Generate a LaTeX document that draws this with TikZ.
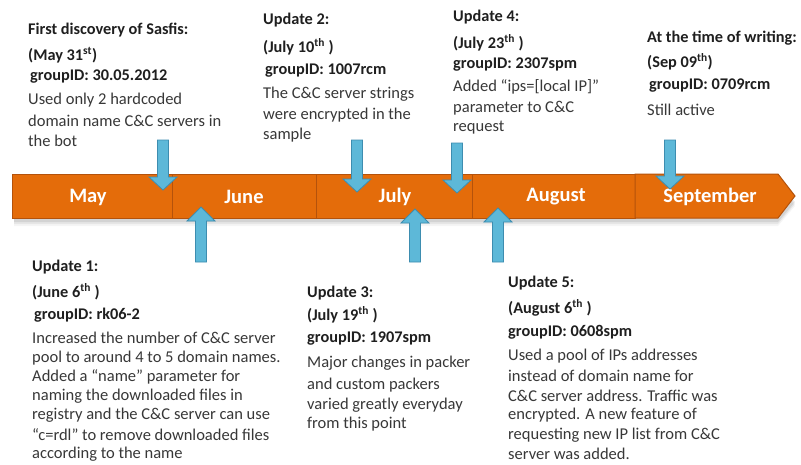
\documentclass[tikz,border=0pt]{standalone}
\usepackage{fontspec}
\setmainfont{Carlito}
\begin{document}
\begin{tikzpicture}[x=1pt,y=-1pt,
  hd/.style={anchor=west,inner sep=0pt,font=\fontsize{16.3}{18}\selectfont\bfseries,text=black!88},
  ds/.style={anchor=west,inner sep=0pt,font=\fontsize{16.5}{18}\selectfont,text=black!78},
  mon/.style={inner sep=0pt,font=\fontsize{20.5}{22}\selectfont\bfseries,text=white},
  seg/.style={fill=barorange,draw=bardark,line width=1pt},
  blk/.style={fill=arrblue,draw=arrdark,line width=0.8pt}]
\definecolor{barorange}{HTML}{E46C0A}
\definecolor{bardark}{HTML}{B4520B}
\definecolor{arrblue}{HTML}{5DB8D8}
\definecolor{arrdark}{HTML}{3D8DB0}
\useasboundingbox (0,0) rectangle (801,464);
\fill[white] (0,0) rectangle (801,464);
% shadow
\foreach \o/\op in {7/0.04,5/0.06,3/0.08}{
  \fill[black,opacity=\op] (14,178+\o) -- (778,178+\o) -- (795,199+\o) -- (778,219+\o) -- (14,219+\o) -- cycle;}
% bar segments
\path[seg] (12,174) rectangle (172,218);
\path[seg] (172,174) rectangle (316,218);
\path[seg] (316,174) rectangle (472,218);
\path[seg] (472,174) rectangle (635,218);
\path[seg] (635,174) -- (778,174) -- (795,196) -- (778,218) -- (635,218) -- cycle;
\node[mon] (may) at (88,197) {May};
\node[mon] (jun) at (244,197) {June};
\node[mon] (jul) at (395,197) {July};
\node[mon] (aug) at (556,197) {August};
\node[mon] (sep) at (710,197) {September};
% down arrows
\foreach \x/\ya/\yb in {163/140/190, 357/140/192, 457/143/193, 670/140/189}{
  \path[blk] (\x-5.5,\ya) -- (\x+5.5,\ya) -- (\x+5.5,\yb-13) -- (\x+14,\yb-13) -- (\x,\yb) -- (\x-14,\yb-13) -- (\x-5.5,\yb-13) -- cycle;}
% up arrows
\foreach \x/\ya/\yb in {201/262/207, 415/262/209, 498/262/208}{
  \path[blk] (\x-5.5,\ya) -- (\x+5.5,\ya) -- (\x+5.5,\yb+14) -- (\x+14,\yb+14) -- (\x,\yb) -- (\x-14,\yb+14) -- (\x-5.5,\yb+14) -- cycle;}
% First discovery
\node[hd] (f1) at (28,30) {First discovery of Sasfis:};
\node[hd] (f2) at (28,55) {(May 31\textsuperscript{st})};
\node[hd] (f3) at (30,77) {groupID: 30.05.2012};
\node[ds] (f4) at (28,100) {Used only 2 hardcoded};
\node[ds] (f5) at (28,121) {domain name C\&C servers in};
\node[ds] (f6) at (28,141) {the bot};
% Update 2
\node[hd] (b1) at (263,20) {Update 2:};
\node[hd] (b2) at (263,47) {(July 10\textsuperscript{th} )};
\node[hd] (b3) at (265,71) {groupID: 1007rcm};
\node[ds] (b4) at (263,94) {The C\&C server strings};
\node[ds] (b5) at (263,115) {were encrypted in the};
\node[ds] (b6) at (263,135) {sample};
% Update 4
\node[hd] (d1) at (453,17) {Update 4:};
\node[hd] (d2) at (453,43) {(July 23\textsuperscript{th} )};
\node[hd] (d3) at (453,65) {groupID: 2307spm};
\node[ds] (d4) at (453,87) {Added “ips=[local IP]”};
\node[ds] (d5) at (453,108) {parameter to C\&C};
\node[ds] (d6) at (453,128) {request};
% Sep
\node[hd] (s1) at (647,38) {At the time of writing:};
\node[hd] (s2) at (647,62) {(Sep 09\textsuperscript{th})};
\node[hd] (s3) at (649,86) {groupID: 0709rcm};
\node[ds] (s4) at (647,110) {Still active};
% Update 1
\node[hd] (a1) at (32,267) {Update 1:};
\node[hd] (a2) at (32,292) {(June 6\textsuperscript{th} )};
\node[hd] (a3) at (34,315) {groupID: rk06-2};
\node[ds] (a4) at (32,338) {Increased the number of C\&C server};
\node[ds] (a5) at (32,358) {pool to around 4 to 5 domain names.};
\node[ds] (a6) at (32,377) {Added a “name” parameter for};
\node[ds] (a7) at (32,396) {naming the downloaded files in};
\node[ds] (a8) at (32,415) {registry and the C\&C server can use};
\node[ds] (a9) at (32,435) {“c=rdl” to remove downloaded files};
\node[ds] (a10) at (32,454) {according to the name};
% Update 3
\node[hd] (c1) at (307,293) {Update 3:};
\node[hd] (c2) at (307,315) {(July 19\textsuperscript{th} )};
\node[hd] (c3) at (307,339) {groupID: 1907spm};
\node[ds] (c4) at (307,363) {Major changes in packer};
\node[ds] (c5) at (307,385) {and custom packers};
\node[ds] (c6) at (307,405) {varied greatly everyday};
\node[ds] (c7) at (307,424) {from this point};
% Update 5
\node[hd] (e1) at (508,283) {Update 5:};
\node[hd] (e2) at (508,308) {(August 6\textsuperscript{th} )};
\node[hd] (e3) at (508,332) {groupID: 0608spm};
\node[ds] (e4) at (508,356) {Used a pool of IPs addresses};
\node[ds] (e5) at (508,376) {instead of domain name for};
\node[ds] (e6) at (508,396) {C\&C server address. Traffic was};
\node[ds] (e7) at (508,415) {encrypted. A new feature of};
\node[ds] (e8) at (508,435) {requesting new IP list  from C\&C};
\node[ds] (e9) at (508,454) {server was added.};
\end{tikzpicture}
\end{document}
